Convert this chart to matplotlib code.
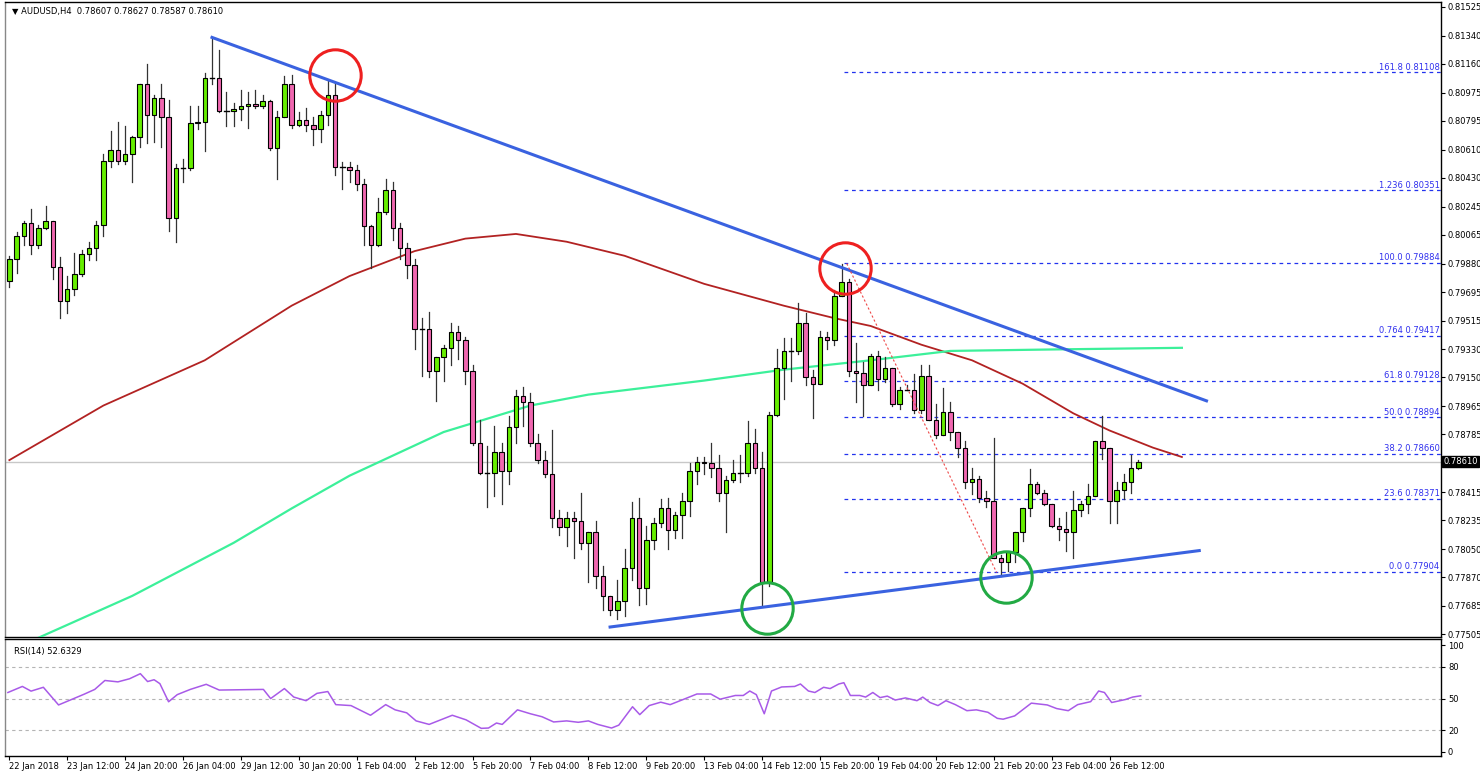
import matplotlib
matplotlib.use("Agg")
import matplotlib.pyplot as plt
import numpy as np

# ---------------- data ----------------
closes = [0.7991,0.8006,0.8014,0.8000,0.8011,0.8015,0.7986,0.7964,0.7972,0.7981,
          0.7994,0.7998,0.8013,0.8054,0.8061,0.8054,0.8058,0.8069,0.8103,0.8083,
          0.8094,0.8082,0.8017,0.8049,0.8049,0.8078,0.8079,0.8107,0.8107,0.8086,
          0.8086,0.8087,0.8089,0.8090,0.8089,0.8092,0.8062,0.8082,0.8103,0.8077,
          0.8080,0.8077,0.8074,0.8083,0.8096,0.8050,0.8050,0.8048,0.8039,0.8012,
          0.8000,0.8021,0.8035,0.8011,0.7998,0.7987,0.7946,0.7946,0.7919,0.7928,
          0.7934,0.7944,0.7939,0.7919,0.7873,0.7854,0.7854,0.7867,0.7855,0.7883,
          0.7903,0.7899,0.7873,0.7862,0.7853,0.7825,0.7819,0.7825,0.7823,0.7809,
          0.7816,0.7788,0.7775,0.7766,0.7772,0.7793,0.7825,0.7780,0.7811,0.7822,
          0.7831,0.7817,0.7827,0.7836,0.7855,0.7861,0.7860,0.7857,0.7841,0.7849,
          0.7854,0.7854,0.7873,0.7857,0.7784,0.7891,0.7921,0.7932,0.7932,0.7950,
          0.7915,0.7911,0.7941,0.7939,0.7967,0.7976,0.7919,0.7918,0.7910,0.7929,
          0.7914,0.7921,0.7898,0.7907,0.7907,0.7894,0.7916,0.7888,0.7878,0.7893,
          0.7880,0.7870,0.7848,0.7850,0.7838,0.7836,0.7799,0.7797,0.7803,0.7816,
          0.7831,0.7847,0.7841,0.7834,0.7820,0.7818,0.7816,0.7830,0.7834,0.7839,
          0.7874,0.7870,0.7836,0.7843,0.7848,0.7857,0.78610]
first_open = 0.7977
upper_wick_pips = [2,2,1,9,2,10,0,6,8,14,3,4,2,4,12,18,18,1,0,13,
                   2,9,11,3,6,11,10,3,26,18,12,4,10,8,9,4,1,4,5,6,
                   5,8,5,3,10,8,3,3,3,3,1,9,7,5,3,3,4,7,11,0,
                   2,6,4,2,4,15,17,17,6,7,4,6,6,6,6,28,5,4,4,18,
                   0,7,6,0,13,12,10,13,9,3,6,7,2,5,5,3,3,13,8,3,
                   8,11,14,9,10,2,12,8,8,13,6,5,4,3,4,12,2,18,7,1,
                   3,7,0,2,3,10,7,7,10,15,6,0,4,7,2,4,40,2,0,0,
                   0,9,1,2,0,5,11,12,2,8,0,16,0,5,5,8,1]
lower_wick_pips = [4,9,6,6,2,1,8,11,8,4,1,4,8,7,4,2,2,18,6,18,
                   17,19,8,15,9,1,4,19,4,1,10,10,7,14,1,1,1,20,0,2,
                   1,4,10,8,6,5,14,8,4,12,15,1,1,8,7,8,13,30,4,19,
                   15,11,12,8,1,1,22,15,21,8,10,15,2,2,2,6,5,12,24,4,
                   25,8,9,3,6,10,8,11,10,6,3,12,5,15,10,8,7,6,5,25,
                   1,6,2,3,15,3,1,20,19,2,5,22,0,6,3,0,3,19,20,0,
                   7,2,1,3,0,2,2,0,2,0,5,6,4,8,3,4,0,9,6,6,
                   6,5,1,1,1,7,12,17,4,6,0,7,14,14,6,7,1]

ma_red_x = [0,13,27,39,47,56,63,70,77,85,96,107,114,119,126,133,140,147,152,158,162]
ma_red_y = [0.7862,0.7897,0.7926,0.7961,0.7980,0.7996,0.8004,0.8007,0.8002,0.7993,
            0.7975,0.7961,0.7953,0.7948,0.7936,0.7926,0.7911,0.7892,0.7881,0.7870,0.7864]
ma_green_x = [3,17,31,39,47,60,72,80,96,107,119,130,145,162]
ma_green_y = [0.7746,0.7775,0.7809,0.7831,0.7852,0.7880,0.7897,0.7904,0.7913,0.7920,
              0.7926,0.7932,0.7933,0.7934]

trend_down_x = [28, 165.4]
trend_down_y = [0.8133, 0.7900]
trend_up_x = [83, 164.4]
trend_up_y = [0.7755, 0.7804]
fib_dotted_x = [115.7, 136.4]
fib_dotted_y = [0.7988, 0.7790]

fib_names = ["161.8", "1.236", "100.0", "0.764", "61.8", "50.0", "38.2", "23.6", "0.0"]
fib_levels = [0.81108, 0.80351, 0.79884, 0.79417, 0.79128, 0.78894, 0.78660, 0.78371, 0.77904]
fib_start = 115.3

red_circles_x = [45, 115.4]
red_circles_y = [0.8109, 0.7985]
green_circles_x = [104.7, 137.7]
green_circles_y = [0.7767, 0.7787]

price_ticks = ["0.81525","0.81340","0.81160","0.80975","0.80795","0.80610","0.80430",
               "0.80245","0.80065","0.79880","0.79695","0.79515","0.79330","0.79150",
               "0.78965","0.78785","0.78415","0.78235","0.78050","0.77870","0.77685","0.77505"]
last_price = 0.78610

rsi_x = [-0.2,1.8,3.0,4.7,6.8,10.3,11.8,13.2,15.0,16.6,18.1,19.1,20.0,20.8,22.0,23.2,25.0,
         27.2,29.0,35.1,36.1,38.0,39.3,41.0,42.5,44.0,45.1,47.2,49.9,52.0,53.3,54.9,56.2,
         58.0,61.2,63.1,65.2,66.2,67.3,68.1,70.2,72.0,73.6,75.2,77.0,78.6,80.0,81.3,83.2,
         84.2,86.1,87.1,88.4,90.0,91.3,93.2,95.0,96.9,98.2,100.3,101.4,102.3,103.2,104.3,
         105.3,106.7,108.5,109.3,110.4,111.3,112.5,113.4,114.6,115.3,116.2,117.5,118.3,
         119.3,120.3,121.3,122.4,123.8,125.4,126.2,127.2,128.3,129.4,130.7,132.3,133.6,
         135.2,136.5,137.3,138.9,141.2,143.4,144.7,146.3,147.6,149.4,150.5,151.3,152.3,
         154.2,155.2,156.3]
rsi_v = [55.7,61.4,57,60.6,44,54,58.6,67,65.7,68.6,73.4,66,67.7,64,47,53.7,58.6,
         63.4,58,58.6,50,59.4,51.4,48,54.9,56.6,44.3,43.4,34.3,44.3,39.4,36.6,29,
         25.7,34.3,30,22,22.3,27,25.7,39.4,35.7,32.9,28,29,27.7,29,25.7,22.3,
         25,42.3,34.9,43.4,46.6,44.3,49.4,54.3,54.3,49.4,52.9,52.9,57.1,53.7,35.7,
         57.1,60.9,61.4,63.7,57.1,55.7,60.6,59.4,63.7,64.9,52.9,52.9,51.4,
         55.7,50.9,52.3,48.6,50.6,48,51.4,46.3,43.4,48,44.3,38.6,39.4,
         37.1,31.4,30.6,33.7,45.7,44,40.6,38.6,44.3,47.1,57.1,55.7,46.3,
         49.1,51.4,52.6]

date_labels = ["22 Jan 2018","23 Jan 12:00","24 Jan 20:00","26 Jan 04:00","29 Jan 12:00",
               "30 Jan 20:00","1 Feb 04:00","2 Feb 12:00","5 Feb 20:00","7 Feb 04:00",
               "8 Feb 12:00","9 Feb 20:00","13 Feb 04:00","14 Feb 12:00","15 Feb 20:00",
               "19 Feb 04:00","20 Feb 12:00","21 Feb 20:00","23 Feb 04:00","26 Feb 12:00"]

# ---------------- figure ----------------
W, H = 1480, 772
fig = plt.figure(figsize=(W/100, H/100), dpi=100)
fig.patch.set_facecolor("white")
L, R = 5/W, 1441/W
ax = fig.add_axes([L, (H-637)/H, R-L, 635/H])
ax2 = fig.add_axes([L, (H-756)/H, R-L, 117/H])

FS = 6.0
XMAX = 197.8
ax.set_xlim(-0.6, XMAX)
ax.set_ylim(0.77486, 0.81557)
ax2.set_xlim(-0.6, XMAX)
ax2.set_ylim(-4, 106)

for a in (ax, ax2):
    for s in a.spines.values():
        s.set_color("black"); s.set_linewidth(1.0)
    a.spines["left"].set_color("#888888")
    a.yaxis.tick_right()
    a.tick_params(axis="y", direction="out", length=3, labelsize=FS, pad=2, colors="black")

# current price line
ax.axhline(last_price, color="#c8c8c8", lw=1.0, zorder=1)

# fib levels
for name, lv in zip(fib_names, fib_levels):
    ax.plot([fib_start, XMAX], [lv, lv], color="#2233ee", lw=0.9, ls=(0, (3, 3)), zorder=2)
    ax.text(XMAX - 0.2, lv + 0.00003, f"{name} {lv:.5f}", color="#3030ee", fontsize=FS,
            ha="right", va="bottom", zorder=3)

# moving averages
ax.plot(ma_red_x, ma_red_y, color="#b22222", lw=1.3, zorder=3)
ax.plot(ma_green_x, ma_green_y, color="#3cf09a", lw=1.6, zorder=3)

# candles
opens = [first_open] + closes[:-1]
n = len(closes)
for i in range(n):
    o, c = opens[i], closes[i]
    hi = max(o, c) + upper_wick_pips[i] * 0.0001
    lo = min(o, c) - lower_wick_pips[i] * 0.0001
    bull = c >= o
    ax.plot([i, i], [lo, hi], color="#333333", lw=0.9, zorder=4)
    if abs(c - o) < 0.00004:
        ax.plot([i - 0.32, i + 0.32], [c, c], color="black", lw=1.0, zorder=5)
    else:
        ax.bar(i, abs(c - o), bottom=min(o, c), width=0.62,
               color="#66ee00" if bull else "#f067b0", edgecolor="black", lw=0.8, zorder=5)

# trend lines
ax.plot(trend_down_x, trend_down_y, color="#3a62e0", lw=2.2, zorder=6)
ax.plot(trend_up_x, trend_up_y, color="#3a62e0", lw=2.2, zorder=6)
ax.plot(fib_dotted_x, fib_dotted_y, color="#ee4444", lw=0.8, ls=(0, (2, 2)), zorder=6)

# circles
ax.plot(red_circles_x, red_circles_y, "o", ms=37, mfc="none", mec="#ee2020", mew=2.2, zorder=7)
ax.plot(green_circles_x, green_circles_y, "o", ms=37, mfc="none", mec="#22aa44", mew=2.2, zorder=7)

# price axis
ax.set_yticks([float(t) for t in price_ticks])
ax.set_yticklabels(price_ticks)
ax.text(1.0015, last_price, "0.78610", transform=ax.get_yaxis_transform(), fontsize=FS,
        color="white", ha="left", va="center",
        bbox=dict(boxstyle="square,pad=0.15", fc="black", ec="black"), zorder=10)
ax.set_xticks([])
ax.text(0.005, 0.992, "\u25BC AUDUSD,H4  0.78607 0.78627 0.78587 0.78610", transform=ax.transAxes,
        fontsize=FS, va="top", ha="left")

# RSI
for lv in (80, 50, 20):
    ax2.axhline(lv, color="#b4b4b4", lw=0.8, ls=(0, (3, 3)))
ax2.plot(rsi_x, rsi_v, color="#a85ae8", lw=1.1)
ax2.set_yticks([100, 80, 50, 20, 0])
ax2.set_yticklabels(["100", "80", "50", "20", "0"])
ax2.text(0.006, 0.93, "RSI(14) 52.6329", transform=ax2.transAxes, fontsize=FS, va="top")

tick_pos = [8 * k for k in range(len(date_labels))]
ax2.set_xticks(tick_pos)
ax2.set_xticklabels(date_labels, fontsize=FS, ha="left")
ax2.tick_params(axis="x", direction="out", length=3, pad=1.5)

fig.savefig("out.png", dpi=100, facecolor="white")
